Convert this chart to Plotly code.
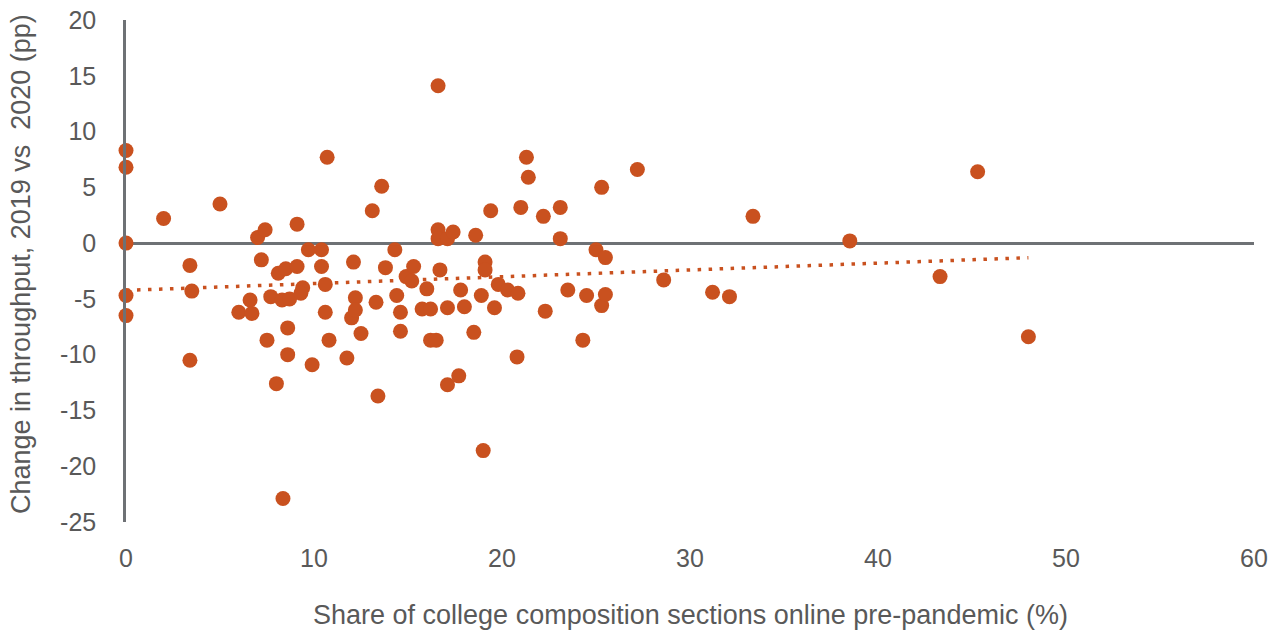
import numpy as np
import plotly.graph_objects as go

# Share of college composition sections online pre-pandemic (%)
share_online = [
    0, 0, 0, 0, 0,
    2.0, 5.0, 3.4, 3.5, 3.4,
    7.0, 7.4, 9.1, 7.2, 6.0, 6.6, 6.7, 7.5, 7.7, 8.1, 8.5, 9.1, 8.3, 8.7, 8.6, 8.6, 8.0, 8.35,
    9.7, 9.4, 9.3, 9.9, 10.4, 10.4, 10.7, 10.6, 10.6, 10.8, 11.75,
    12.1, 12.0, 12.2, 12.2, 12.5, 13.1, 13.6, 13.8, 13.3, 13.4,
    14.3, 14.4, 14.6, 14.6, 14.9, 15.2, 15.3, 15.75, 16.0, 16.2, 16.2, 16.5,
    16.6, 16.6, 16.6, 16.7, 17.1, 17.1, 17.1, 17.4, 17.7, 17.8, 18.0,
    18.6, 18.5, 18.9, 19.1, 19.1, 19.0, 19.4, 19.6, 19.8, 20.3, 20.85, 20.8,
    21.0, 21.3, 21.4, 22.2, 22.3, 23.1, 23.1, 23.5, 24.3, 24.5,
    25.0, 25.3, 25.3, 25.5, 25.5, 27.2, 28.6, 31.2, 32.1, 33.35,
    38.5, 43.3, 45.3, 48.0,
]
# Change in throughput, 2019 vs 2020 (pp)
change_throughput = [
    8.3, 6.8, 0.0, -4.7, -6.5,
    2.2, 3.5, -2.0, -4.3, -10.5,
    0.5, 1.2, 1.7, -1.5, -6.2, -5.1, -6.3, -8.7, -4.8, -2.7, -2.3, -2.1, -5.1, -5.0, -7.6, -10.0, -12.6, -22.9,
    -0.6, -4.0, -4.5, -10.9, -2.1, -0.6, 7.7, -3.7, -6.2, -8.7, -10.3,
    -1.7, -6.7, -4.9, -6.0, -8.1, 2.9, 5.1, -2.2, -5.3, -13.7,
    -0.6, -4.7, -6.2, -7.9, -3.0, -3.4, -2.1, -5.9, -4.1, -5.9, -8.7, -8.7,
    14.1, 1.2, 0.4, -2.4, -5.8, -12.7, 0.4, 1.0, -11.9, -4.2, -5.7,
    0.7, -8.0, -4.7, -1.7, -2.4, -18.6, 2.9, -5.8, -3.7, -4.2, -4.5, -10.2,
    3.2, 7.7, 5.9, 2.4, -6.1, 3.2, 0.4, -4.2, -8.7, -4.7,
    -0.6, 5.0, -5.6, -1.3, -4.6, 6.6, -3.3, -4.4, -4.8, 2.4,
    0.2, -3.0, 6.4, -8.4,
]

x_ticks = [0, 10, 20, 30, 40, 50, 60]
y_ticks = [20, 15, 10, 5, 0, -5, -10, -15, -20, -25]

x_title = "Share of college composition sections online pre-pandemic (%)"
y_title = "Change in throughput, 2019 vs  2020 (pp)"

ORANGE = "#C9511F"
GREY_TEXT = "#595959"
AXIS = "#6E7175"

xs = np.array(share_online)
ys = np.array(change_throughput)
slope, intercept = np.polyfit(xs, ys, 1)
trend_x = np.array([xs.min(), xs.max()])
trend_y = slope * trend_x + intercept

fig = go.Figure()
fig.add_trace(go.Scatter(
    x=trend_x, y=trend_y, mode="lines",
    line=dict(color=ORANGE, width=3.5, dash="3.5px,7.5px"),
    hoverinfo="skip", showlegend=False,
))
fig.add_trace(go.Scatter(
    x=share_online, y=change_throughput, mode="markers",
    marker=dict(color=ORANGE, size=15, line=dict(width=0)),
    cliponaxis=False, showlegend=False,
))

W, H = 1281, 635
L, R, T, B = 126, 27, 20, 113

fig.update_layout(
    width=W, height=H,
    margin=dict(l=L, r=R, t=T, b=B, pad=0),
    paper_bgcolor="white", plot_bgcolor="white",
    font=dict(family="Liberation Sans, Arial, sans-serif", size=25, color=GREY_TEXT),
    showlegend=False,
)
fig.update_xaxes(
    range=[0, 60], tickvals=x_ticks, ticktext=[str(v) for v in x_ticks],
    showgrid=False, zeroline=False, showline=False,
    ticks="", ticklabelstandoff=19,
    tickfont=dict(size=25, color=GREY_TEXT),
    automargin=False,
)
fig.update_yaxes(
    range=[-25, 20], tickvals=y_ticks, ticktext=[str(v) for v in y_ticks],
    showgrid=False, zeroline=True, zerolinecolor=AXIS, zerolinewidth=2.5,
    showline=True, linecolor=AXIS, linewidth=2.5,
    ticks="", ticklabelstandoff=22,
    tickfont=dict(size=25, color=GREY_TEXT),
    automargin=False,
)
fig.add_annotation(
    text=x_title, xref="paper", yref="paper",
    x=0.5, y=-(615 - (H - B)) / (H - T - B),
    xanchor="center", yanchor="middle", showarrow=False,
    font=dict(size=27, color=GREY_TEXT),
)
fig.add_annotation(
    text=y_title, xref="paper", yref="paper",
    x=-(L - 21) / (W - L - R), y=(H - B - 264) / (H - T - B), textangle=-90,
    xanchor="center", yanchor="middle", showarrow=False,
    font=dict(size=27, color=GREY_TEXT),
)

fig.write_html(
    "out.html",
    config={"displayModeBar": False},
    post_script="document.body.style.margin='0';document.body.style.overflow='hidden';",
)
